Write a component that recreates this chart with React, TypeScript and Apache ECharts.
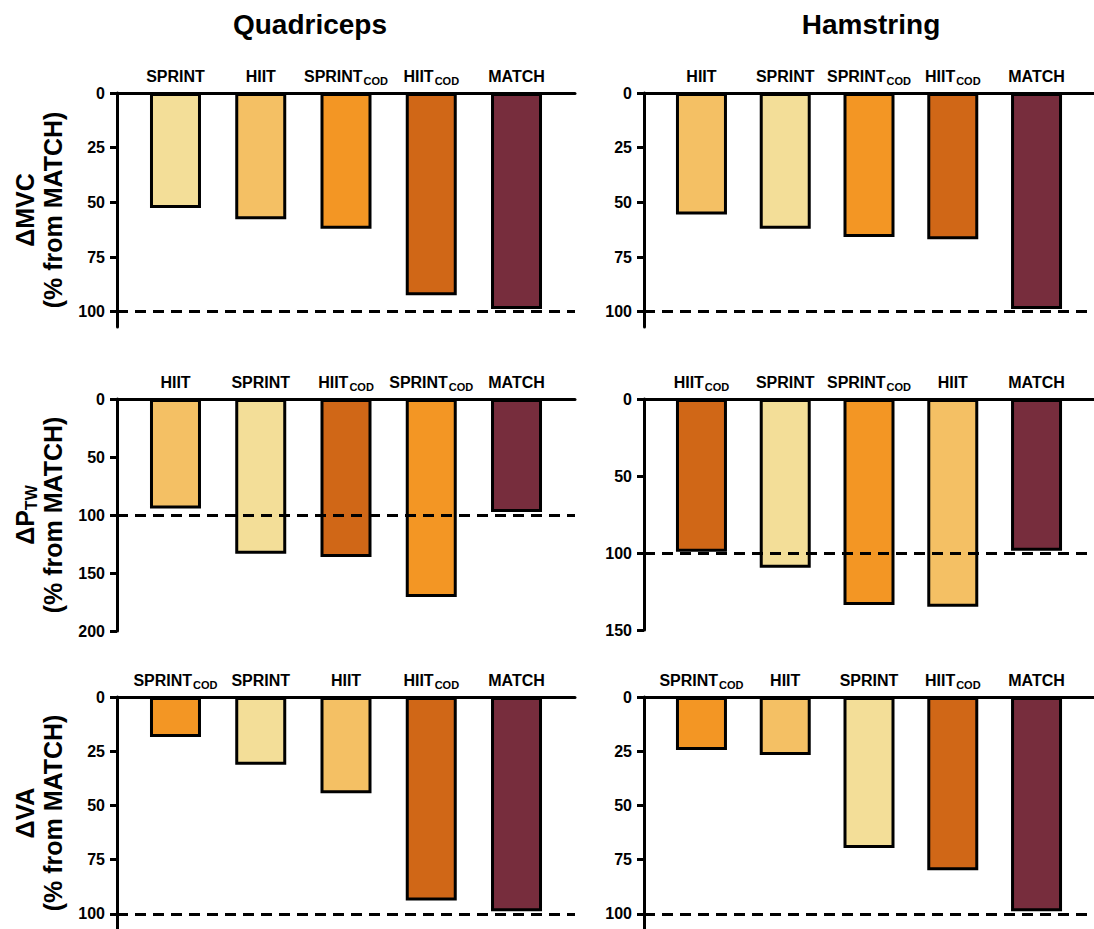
import React, { useEffect, useRef } from "react";
import * as echarts from "echarts";

const FONT = "'Liberation Sans', Arial, Helvetica, sans-serif";

const COLORS: Record<string, string> = {
  SPRINT: "#F3DE98",
  HIIT: "#F4C064",
  SPRINT_COD: "#F39624",
  HIIT_COD: "#D06717",
  MATCH: "#772D3D",
};

// ΔMVC
const quadMvcCategories = ["SPRINT", "HIIT", "SPRINT_COD", "HIIT_COD", "MATCH"];
const quadMvcValues = [52.6, 57.7, 62.1, 92.5, 98.8];
const hamMvcCategories = ["HIIT", "SPRINT", "SPRINT_COD", "HIIT_COD", "MATCH"];
const hamMvcValues = [55.6, 62.1, 65.8, 66.9, 98.8];
const mvcTicks = [0, 25, 50, 75, 100];

// ΔPTW
const quadPtwCategories = ["HIIT", "SPRINT", "HIIT_COD", "SPRINT_COD", "MATCH"];
const quadPtwValues = [94.4, 133.3, 136.1, 170.7, 97.5];
const quadPtwTicks = [0, 50, 100, 150, 200];
const hamPtwCategories = ["HIIT_COD", "SPRINT", "SPRINT_COD", "HIIT", "MATCH"];
const hamPtwValues = [99.2, 109.6, 133.7, 134.9, 98.6];
const hamPtwTicks = [0, 50, 100, 150];

// ΔVA
const quadVaCategories = ["SPRINT_COD", "SPRINT", "HIIT", "HIIT_COD", "MATCH"];
const quadVaValues = [18.4, 31.2, 44.4, 93.9, 98.8];
const hamVaCategories = ["SPRINT_COD", "HIIT", "SPRINT", "HIIT_COD", "MATCH"];
const hamVaValues = [24.4, 26.7, 69.6, 79.9, 98.8];
const vaTicks = [0, 25, 50, 75, 100];

const catLabel = (c: string) => {
  if (c.endsWith("_COD")) return `{m|${c.replace("_COD", "")}}{s|COD}`;
  return `{m|${c}}`;
};

type PanelDef = {
  left: number;
  top: number;
  height: number;
  max: number;
  ticks: number[];
  cats: string[];
  vals: number[];
  name?: string;
};

const panels: PanelDef[] = [
  { left: 117, top: 93, height: 234, max: 107, ticks: mvcTicks, cats: quadMvcCategories, vals: quadMvcValues, name: "{n|ΔMVC}\n{n|(% from MATCH)}" },
  { left: 644, top: 93, height: 234, max: 107, ticks: mvcTicks, cats: hamMvcCategories, vals: hamMvcValues },
  { left: 117, top: 399, height: 232, max: 200, ticks: quadPtwTicks, cats: quadPtwCategories, vals: quadPtwValues, name: "{n|ΔP}{sub|TW}\n{n|(% from MATCH)}" },
  { left: 644, top: 399, height: 231, max: 150, ticks: hamPtwTicks, cats: hamPtwCategories, vals: hamPtwValues },
  { left: 117, top: 697, height: 235, max: 107, ticks: vaTicks, cats: quadVaCategories, vals: quadVaValues, name: "{n|ΔVA}\n{n|(% from MATCH)}" },
  { left: 644, top: 697, height: 235, max: 107, ticks: vaTicks, cats: hamVaCategories, vals: hamVaValues },
];

export default function App() {
  const ref = useRef<HTMLDivElement>(null);
  useEffect(() => {
    if (!ref.current) return;
    const chart = echarts.init(ref.current, undefined, { renderer: "svg" });
    const grid: any[] = [];
    const xAxis: any[] = [];
    const yAxis: any[] = [];
    const series: any[] = [];
    panels.forEach((p, i) => {
      grid.push({ left: p.left, top: p.top, width: 458, height: p.height, containLabel: false });
      xAxis.push({
        gridIndex: i,
        type: "value",
        position: "top",
        min: -0.686,
        max: 4.686,
        axisLine: { show: true, onZero: false, lineStyle: { color: "#000", width: 3 } },
        axisTick: { show: false },
        splitLine: { show: false },
        axisLabel: {
          show: true,
          customValues: [0, 1, 2, 3, 4],
          margin: 7,
          formatter: (v: number) => catLabel(p.cats[Math.round(v)]),
          rich: {
            m: { fontFamily: FONT, fontSize: 16, fontWeight: "bold", color: "#000", lineHeight: 20, verticalAlign: "middle" },
            s: { fontFamily: FONT, fontSize: 11, fontWeight: "bold", color: "#000", lineHeight: 20, verticalAlign: "bottom", padding: [0, 0, 0, 1] },
          },
        },
      });
      yAxis.push({
        gridIndex: i,
        type: "value",
        inverse: true,
        min: 0,
        max: p.max,
        axisLine: { show: true, onZero: false, lineStyle: { color: "#000", width: 3 } },
        axisTick: { show: true, length: 7, customValues: p.ticks, lineStyle: { color: "#000", width: 3 } },
        splitLine: { show: false },
        axisLabel: {
          customValues: p.ticks,
          margin: 12,
          color: "#000",
          fontFamily: FONT,
          fontSize: 16,
          fontWeight: "bold",
        },
        name: p.name || "",
        nameLocation: "middle",
        nameRotate: 90,
        nameGap: 50,
        nameTextStyle: {
          fontFamily: FONT,
          fontSize: 25,
          fontWeight: "bold",
          color: "#000",
          lineHeight: 28,
          rich: {
            n: { fontFamily: FONT, fontSize: 25, fontWeight: "bold", color: "#000", lineHeight: 28 },
            sub: { fontFamily: FONT, fontSize: 16, fontWeight: "bold", color: "#000", lineHeight: 28, verticalAlign: "bottom" },
          },
        },
      });
      series.push({
        type: "bar",
        xAxisIndex: i,
        yAxisIndex: i,
        barWidth: 51,
        data: p.vals.map((v, k) => ({
          value: [k, v],
          itemStyle: { color: COLORS[p.cats[k]], borderColor: "#000", borderWidth: 3 },
        })),
        markLine: {
          silent: true,
          symbol: "none",
          label: { show: false },
          lineStyle: { color: "#000", width: 3, type: [11, 7] },
          data: [{ yAxis: 100 }],
        },
      });
    });
    chart.setOption({
      animation: false,
      backgroundColor: "#fff",
      grid,
      xAxis,
      yAxis,
      series,
      graphic: [
        { type: "text", x: 310, y: 24, style: { text: "Quadriceps", align: "center", verticalAlign: "middle", fontFamily: FONT, fontSize: 28, fontWeight: "bold", fill: "#000" } },
        { type: "text", x: 871, y: 24, style: { text: "Hamstring", align: "center", verticalAlign: "middle", fontFamily: FONT, fontSize: 28, fontWeight: "bold", fill: "#000" } },
      ],
    });
    return () => chart.dispose();
  }, []);
  return <div ref={ref} style={{ position: "absolute", left: 0, top: 0, width: 1094, height: 929 }} />;
}
